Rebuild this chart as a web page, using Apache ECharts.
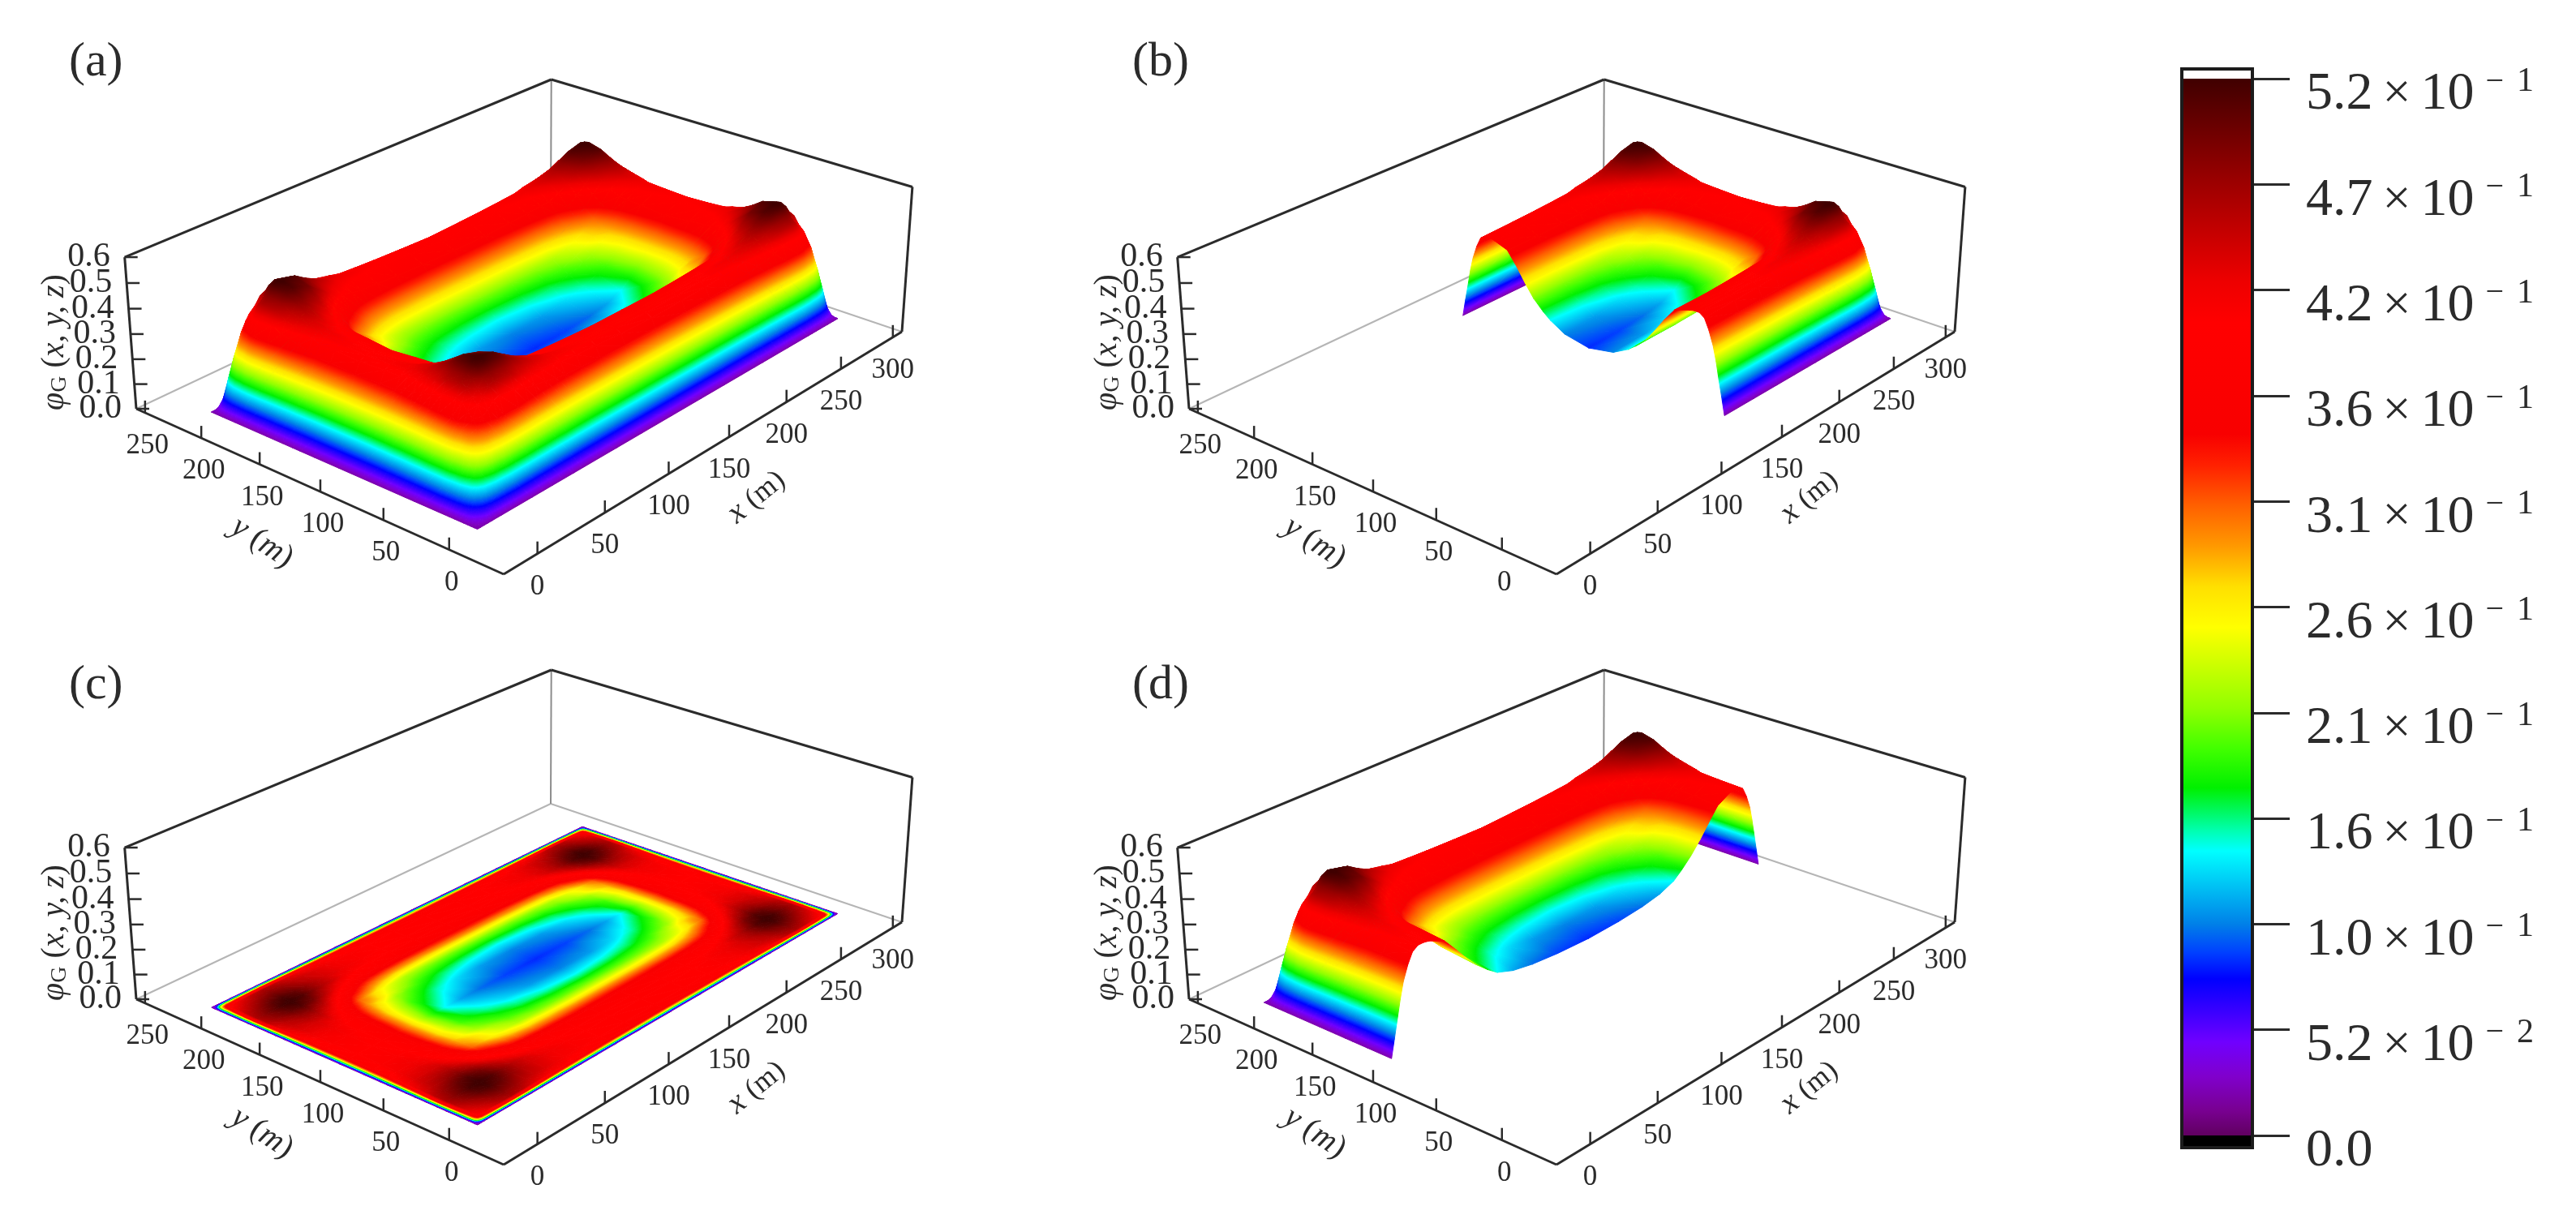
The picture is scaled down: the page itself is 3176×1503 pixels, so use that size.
<!DOCTYPE html>
<html>
<head>
<meta charset="utf-8">
<title>phi G surfaces</title>
<script src="https://cdn.jsdelivr.net/npm/echarts@6/dist/echarts.min.js"></script>
<style>
html, body { margin: 0; background: #fff; }
#chart { width: 3176px; height: 1503px; }
</style>
</head>
<body>
<div id="chart"></div>
<script>
// stations of the lower-left quarter of the domain, the field is symmetric about both centre lines
// the raised panels (a, b, d) have a wider edge wall than the flat panel (c)
const xStationsRaised = [0, 2.5, 5, 7.5, 10, 13.5, 17, 21, 25, 29, 40, 48, 55, 63, 71, 78, 90, 105, 125, 150]
const yStationsRaised = [0, 2.5, 5, 7.5, 10, 13.5, 17, 21, 25, 29, 40, 48, 55, 62, 70, 76, 88, 108]
const xStationsFlat = [0, .9, 1.8, 2.7, 3.6, 5, 7, 13, 24, 31, 40, 48, 55, 63, 71, 78, 90, 105, 125, 150]
const yStationsFlat = [0, .9, 1.8, 2.7, 3.6, 5, 7, 13, 24, 31, 40, 48, 55, 62, 70, 76, 88, 108]
const phiQuarter = [
  [.02, .02, .02, .02, .02, .02, .02, .02, .02, .02, .02, .02, .02, .02, .02, .02, .02, .02, .02, .02],
  [.02, .03, .04, .06, .07, .085, .095, .10, .105, .11, .105, .10, .10, .095, .095, .09, .09, .09, .09, .09],
  [.02, .04, .07, .10, .13, .15, .17, .175, .19, .19, .19, .18, .175, .17, .17, .165, .16, .16, .16, .155],
  [.02, .06, .10, .15, .185, .22, .245, .255, .27, .275, .27, .26, .25, .245, .24, .235, .23, .23, .225, .225],
  [.02, .07, .13, .185, .23, .275, .305, .32, .34, .345, .34, .325, .32, .31, .305, .30, .295, .29, .285, .28],
  [.02, .085, .15, .22, .275, .33, .365, .38, .40, .41, .40, .385, .375, .37, .36, .355, .35, .345, .34, .335],
  [.02, .095, .17, .24, .305, .36, .40, .42, .45, .46, .45, .43, .42, .41, .405, .395, .39, .385, .38, .375],
  [.02, .10, .175, .25, .32, .38, .42, .44, .47, .48, .47, .45, .44, .43, .42, .41, .405, .40, .395, .39],
  [.02, .105, .19, .27, .34, .405, .45, .47, .505, .515, .50, .475, .455, .435, .425, .415, .405, .40, .395, .39],
  [.02, .11, .19, .275, .35, .41, .46, .48, .515, .525, .51, .48, .455, .435, .415, .405, .40, .395, .39, .385],
  [.02, .105, .19, .27, .34, .405, .45, .47, .50, .51, .49, .455, .425, .40, .385, .38, .375, .37, .365, .365],
  [.02, .10, .18, .26, .325, .385, .43, .45, .475, .48, .455, .415, .385, .355, .335, .325, .315, .31, .31, .31],
  [.02, .10, .175, .25, .32, .38, .42, .44, .455, .455, .425, .385, .345, .32, .295, .28, .265, .26, .255, .255],
  [.02, .095, .17, .245, .31, .37, .41, .43, .435, .435, .40, .355, .31, .28, .255, .24, .22, .21, .205, .205],
  [.02, .095, .17, .24, .305, .36, .40, .42, .425, .415, .385, .335, .29, .27, .24, .22, .195, .18, .17, .165],
  [.02, .09, .165, .235, .30, .35, .39, .41, .415, .405, .38, .325, .28, .245, .215, .20, .18, .16, .147, .14],
  [.02, .09, .16, .23, .295, .35, .39, .405, .405, .40, .375, .315, .265, .225, .19, .175, .15, .13, .112, .105],
  [.02, .09, .16, .23, .29, .345, .385, .40, .40, .395, .365, .31, .26, .21, .17, .14, .115, .10, .09, .085]
]
const xTicks = [0, 50, 100, 150, 200, 250, 300]
const yTicks = [0, 50, 100, 150, 200, 250]
const zTicks = [0, 0.1, 0.2, 0.3, 0.4, 0.5, 0.6]
const colorbarMantissa = ['0.0', '5.2', '1.0', '1.6', '2.1', '2.6', '3.1', '3.6', '4.2', '4.7', '5.2']
const colorbarExponent = ['', '2', '1', '1', '1', '1', '1', '1', '1', '1', '1']
const colormapValues = [0, .012, .029, .046, .077, .09, .104, .14, .15, .171, .19, .21, .25, .27, .29, .31, .33, .345, .40, .42, .47, .52]
const colormapColors = ['#600060', '#780090', '#8000cc', '#7000ff', '#0000ff', '#0040ff', '#0080e8', '#00ffff', '#00ffb0', '#00f000',
  '#40ff00', '#90ff00', '#ffff00', '#ffe000', '#ff9900', '#ff6000', '#ff2000', '#f80000', '#ff0000', '#ee0000', '#9a0000', '#400000']

// the box of one panel on screen, in pixels from the panel corner
const FRONT = [621, 708], RIGHT = [1112, 409], BACK = [679, 263], LEFT = [168, 504]
const BACK_TOP_Y = 98
const VERTICAL_VANISH = [650, 6800]
const xAxisRange = [-24, 309]
const yAxisRange = [-40, 258]
const zMax = 0.6
const domainX = 300, domainY = 216
const domainOrigin = [-5, -1]

const FONT = '"Liberation Serif", "Times New Roman", serif'
const INK = '#2b2b2b'

// floor homography, unit square -> FRONT, RIGHT, BACK, LEFT
const dx1 = RIGHT[0] - BACK[0], dx2 = LEFT[0] - BACK[0], sx = FRONT[0] - RIGHT[0] + BACK[0] - LEFT[0]
const dy1 = RIGHT[1] - BACK[1], dy2 = LEFT[1] - BACK[1], sy = FRONT[1] - RIGHT[1] + BACK[1] - LEFT[1]
const den = dx1 * dy2 - dx2 * dy1
const hg = (sx * dy2 - dx2 * sy) / den, hh = (dx1 * sy - sx * dy1) / den
const ha = RIGHT[0] - FRONT[0] + hg * RIGHT[0], hb = LEFT[0] - FRONT[0] + hh * LEFT[0]
const hd = RIGHT[1] - FRONT[1] + hg * RIGHT[1], he = LEFT[1] - FRONT[1] + hh * LEFT[1]
const zScale = (BACK_TOP_Y - BACK[1]) * (hg + hh + 1) / (VERTICAL_VANISH[1] - BACK_TOP_Y) / zMax

function projectUnit(u, v, z) {
  const t = z * zScale
  const w = hg * u + hh * v + 1 + t
  return [
    (ha * u + hb * v + FRONT[0] + t * VERTICAL_VANISH[0]) / w,
    (hd * u + he * v + FRONT[1] + t * VERTICAL_VANISH[1]) / w
  ]
}

function project(x, y, z) {
  return projectUnit(
    (x - xAxisRange[0]) / (xAxisRange[1] - xAxisRange[0]),
    (y - yAxisRange[0]) / (yAxisRange[1] - yAxisRange[0]),
    z
  )
}

function colorAt(v) {
  const n = colormapValues.length
  if (v <= colormapValues[0]) return colormapColors[0]
  if (v >= colormapValues[n - 1]) return colormapColors[n - 1]
  let k = 1
  while (colormapValues[k] < v) k++
  const t = (v - colormapValues[k - 1]) / (colormapValues[k] - colormapValues[k - 1])
  return echarts.color.lerp(t, [colormapColors[k - 1], colormapColors[k]])
}

// a triangle with a value at each corner: that value is linear on screen too
function triangleFill(p, v) {
  const det = (p[1][0] - p[0][0]) * (p[2][1] - p[0][1]) - (p[2][0] - p[0][0]) * (p[1][1] - p[0][1])
  const lo = Math.min(v[0], v[1], v[2]), hi = Math.max(v[0], v[1], v[2])
  if (Math.abs(det) < 1e-3 || hi - lo < 1e-5) return colorAt((lo + hi) / 2)
  const d1 = v[1] - v[0], d2 = v[2] - v[0]
  const gx = (d1 * (p[2][1] - p[0][1]) - d2 * (p[1][1] - p[0][1])) / det
  const gy = (d2 * (p[1][0] - p[0][0]) - d1 * (p[2][0] - p[0][0])) / det
  const n = gx * gx + gy * gy
  const stops = [{ offset: 0, color: colorAt(lo) }]
  colormapValues.forEach((c, k) => {
    if (c > lo && c < hi) stops.push({ offset: (c - lo) / (hi - lo), color: colormapColors[k] })
  })
  stops.push({ offset: 1, color: colorAt(hi) })
  return {
    type: 'linear',
    global: true,
    x: p[0][0] + (lo - v[0]) * gx / n,
    y: p[0][1] + (lo - v[0]) * gy / n,
    x2: p[0][0] + (hi - v[0]) * gx / n,
    y2: p[0][1] + (hi - v[0]) * gy / n,
    colorStops: stops
  }
}

// whole domain from the quarter table
function mirrored(stations, domain) {
  return stations.concat(stations.slice(0, -1).reverse().map(s => domain - s))
}

function phiAt(i, j, nx, ny) {
  const qi = i < (nx + 1) / 2 ? i : nx - 1 - i
  const qj = j < (ny + 1) / 2 ? j : ny - 1 - j
  return phiQuarter[qj][qi]
}

// back to front, the camera sits past the x=0, y=0 corner
function surfaceTriangles(keep, xStations, yStations) {
  const xGrid = mirrored(xStations, domainX), yGrid = mirrored(yStations, domainY)
  const out = []
  for (let i = xGrid.length - 2; i >= 0; i--) {
    for (let j = yGrid.length - 2; j >= 0; j--) {
      if (!keep(xGrid[i], yGrid[j])) continue
      const c = [[i, j], [i + 1, j], [i + 1, j + 1], [i, j + 1]].map(q => [
        xGrid[q[0]] + domainOrigin[0],
        yGrid[q[1]] + domainOrigin[1],
        phiAt(q[0], q[1], xGrid.length, yGrid.length)
      ])
      out.push([].concat(c[3], c[2], c[1]))
      out.push([].concat(c[3], c[1], c[0]))
    }
  }
  return out
}

function surfaceSeries(gridIndex, keep, flat) {
  return {
    type: 'custom',
    coordinateSystem: 'cartesian2d',
    xAxisIndex: gridIndex,
    yAxisIndex: gridIndex,
    clip: false,
    silent: true,
    progressive: 0,
    z: 3,
    data: flat ? surfaceTriangles(keep, xStationsFlat, yStationsFlat) : surfaceTriangles(keep, xStationsRaised, yStationsRaised),
    renderItem(params, api) {
      const v = [api.value(2), api.value(5), api.value(8)]
      const p = [0, 3, 6].map((k, n) => api.coord(project(api.value(k), api.value(k + 1), flat ? 0 : v[n])))
      const fill = triangleFill(p, v)
      return {
        type: 'polygon',
        shape: { points: p },
        style: { fill: fill, stroke: fill, lineWidth: 1 }
      }
    }
  }
}

function line(api, a, b, color, width) {
  const p = api.coord(a), q = api.coord(b)
  return {
    type: 'line',
    shape: { x1: p[0], y1: p[1], x2: q[0], y2: q[1] },
    style: { stroke: color, lineWidth: width }
  }
}

function label(api, at, text, size, opts) {
  const p = api.coord(at)
  const o = opts || {}
  return {
    type: 'text',
    x: p[0] + (o.dx || 0),
    y: p[1] + (o.dy || 0),
    rotation: o.rotation || 0,
    style: {
      text: text,
      fill: INK,
      font: size + 'px ' + FONT,
      align: o.align || 'center',
      verticalAlign: 'middle',
      rich: o.rich
    }
  }
}

const richBase = { fontFamily: FONT, fill: INK }

function boxSeries(gridIndex) {
  return {
    type: 'custom',
    coordinateSystem: 'cartesian2d',
    xAxisIndex: gridIndex,
    yAxisIndex: gridIndex,
    clip: false,
    silent: true,
    z: 2,
    data: [[0]],
    renderItem(params, api) {
      const children = []
      const f = projectUnit(0, 0, 0), r = projectUnit(1, 0, 0), b = projectUnit(1, 1, 0), l = projectUnit(0, 1, 0)
      const rt = projectUnit(1, 0, zMax), bt = projectUnit(1, 1, zMax), lt = projectUnit(0, 1, zMax)
      children.push(line(api, l, b, '#b5b5b5', 2), line(api, r, b, '#b5b5b5', 2), line(api, b, bt, '#8c8c8c', 2))
      children.push(line(api, lt, bt, INK, 3), line(api, bt, rt, INK, 3), line(api, rt, r, INK, 3))
      children.push(line(api, l, lt, INK, 3), line(api, l, f, INK, 3), line(api, f, r, INK, 3))
      xTicks.forEach(t => {
        const p = project(t, yAxisRange[0], 0)
        children.push(line(api, p, [p[0], p[1] - 15], INK, 2.5))
        children.push(label(api, p, String(t), 35, { dx: 0, dy: 41 }))
      })
      yTicks.forEach(t => {
        const p = project(xAxisRange[0], t, 0)
        children.push(line(api, p, [p[0], p[1] - 15], INK, 2.5))
        children.push(label(api, p, String(t), 35, { dx: 3, dy: 41 }))
      })
      zTicks.forEach(t => {
        const p = projectUnit(0, 1, t)
        children.push(line(api, p, [p[0] + 16, p[1]], INK, 2.5))
        children.push(label(api, p, t.toFixed(1), 42, { dx: -18, align: 'right' }))
      })
      children.push(label(api, [323, 669], '{i|y} {t|(}{i|m}{t|)}', 40, {
        rotation: -0.58,
        rich: { i: { ...richBase, fontSize: 40, fontStyle: 'italic' }, t: { ...richBase, fontSize: 40 } }
      }))
      children.push(label(api, [933, 613], '{i|x} {t|(m)}', 40, {
        rotation: 0.68,
        rich: { i: { ...richBase, fontSize: 40, fontStyle: 'italic' }, t: { ...richBase, fontSize: 36 } }
      }))
      children.push(label(api, [67, 422], '{i|φ}{s|G} {t|(}{i|x, y, z}{t|)}', 40, {
        rotation: Math.PI / 2,
        rich: {
          i: { ...richBase, fontSize: 40, fontStyle: 'italic' },
          t: { ...richBase, fontSize: 40 },
          s: { ...richBase, fontSize: 28, padding: [14, 0, 0, 0] }
        }
      }))
      return { type: 'group', children: children }
    }
  }
}

const panels = [
  { left: 0, top: 0, tag: '(a)', tagLeft: 80, tagTop: 42, keep: () => true, flat: false },
  { left: 1298, top: 0, tag: '(b)', tagLeft: 1391, tagTop: 42, keep: x => x >= domainX / 2, flat: false },
  { left: 0, top: 728, tag: '(c)', tagLeft: 80, tagTop: 810, keep: () => true, flat: true },
  { left: 1298, top: 728, tag: '(d)', tagLeft: 1391, tagTop: 810, keep: (x, y) => y >= domainY / 2, flat: false }
]

const COLORBAR = 4
const grids = panels.map(p => ({ left: p.left, top: p.top, width: 1300, height: 760, show: false }))
grids.push({ left: 2690, top: 97, width: 87, height: 1303, show: false })

const xAxes = panels.map((p, i) => ({ gridIndex: i, type: 'value', min: 0, max: 1300, show: false }))
xAxes.push({ gridIndex: COLORBAR, type: 'value', min: 0, max: 1, show: false })

const yAxes = panels.map((p, i) => ({ gridIndex: i, type: 'value', min: 0, max: 760, inverse: true, show: false }))
yAxes.push({
  gridIndex: COLORBAR,
  type: 'value',
  position: 'right',
  min: 0,
  max: 0.52,
  interval: 0.052,
  splitLine: { show: false },
  axisLine: { show: true, onZero: false, lineStyle: { color: INK, width: 1 } },
  axisTick: { show: true, inside: false, length: 46, lineStyle: { color: INK, width: 3 } },
  axisLabel: {
    margin: 66,
    align: 'left',
    padding: [40, 0, 0, 0],
    formatter(value) {
      const k = Math.round(value / 0.052)
      return colorbarExponent[k]
        ? '{m|' + colorbarMantissa[k] + '}{x|×}{m|10}{e|−}{f|' + colorbarExponent[k] + '}'
        : '{m|' + colorbarMantissa[k] + '}'
    },
    rich: {
      m: { fontFamily: FONT, fontSize: 66, color: INK },
      x: { fontFamily: FONT, fontSize: 62, color: INK, padding: [0, 12, 0, 12] },
      e: { fontFamily: FONT, fontSize: 40, color: INK, padding: [0, 0, 32, 14] },
      f: { fontFamily: FONT, fontSize: 42, color: INK, padding: [0, 0, 32, 16] }
    }
  }
})

const colorbarSeries = {
  type: 'custom',
  coordinateSystem: 'cartesian2d',
  xAxisIndex: COLORBAR,
  yAxisIndex: COLORBAR,
  clip: false,
  silent: true,
  z: 3,
  data: [[0]],
  renderItem(params, api) {
    const lo = api.coord([0, 0]), hi = api.coord([1, 0.52])
    const outerHi = api.coord([1, 0.5248]), outerLo = api.coord([0, -0.006])
    const stops = colormapValues.map((v, k) => ({ offset: v / 0.52, color: colormapColors[k] }))
    const w = hi[0] - lo[0]
    return {
      type: 'group',
      children: [
        {
          type: 'rect',
          shape: { x: lo[0], y: hi[1], width: w, height: lo[1] - hi[1] },
          style: { fill: { type: 'linear', x: 0, y: 1, x2: 0, y2: 0, colorStops: stops } }
        },
        {
          type: 'rect',
          shape: { x: lo[0], y: lo[1], width: w, height: outerLo[1] - lo[1] },
          style: { fill: '#000' }
        },
        {
          type: 'rect',
          shape: { x: lo[0], y: outerHi[1], width: w, height: outerLo[1] - outerHi[1] },
          style: { fill: 'none', stroke: '#1c1c1c', lineWidth: 4 }
        }
      ]
    }
  }
}

const chart = echarts.init(document.getElementById('chart'), null, { renderer: 'canvas' })
chart.setOption({
  animation: false,
  backgroundColor: '#fff',
  title: panels.map(p => ({
    text: p.tag,
    left: p.tagLeft,
    top: p.tagTop,
    textStyle: { fontFamily: FONT, fontSize: 60, fontWeight: 'normal', color: INK }
  })),
  grid: grids,
  xAxis: xAxes,
  yAxis: yAxes,
  series: panels.map((p, i) => boxSeries(i))
    .concat(panels.map((p, i) => surfaceSeries(i, p.keep, p.flat)))
    .concat([colorbarSeries])
})
</script>
</body>
</html>
